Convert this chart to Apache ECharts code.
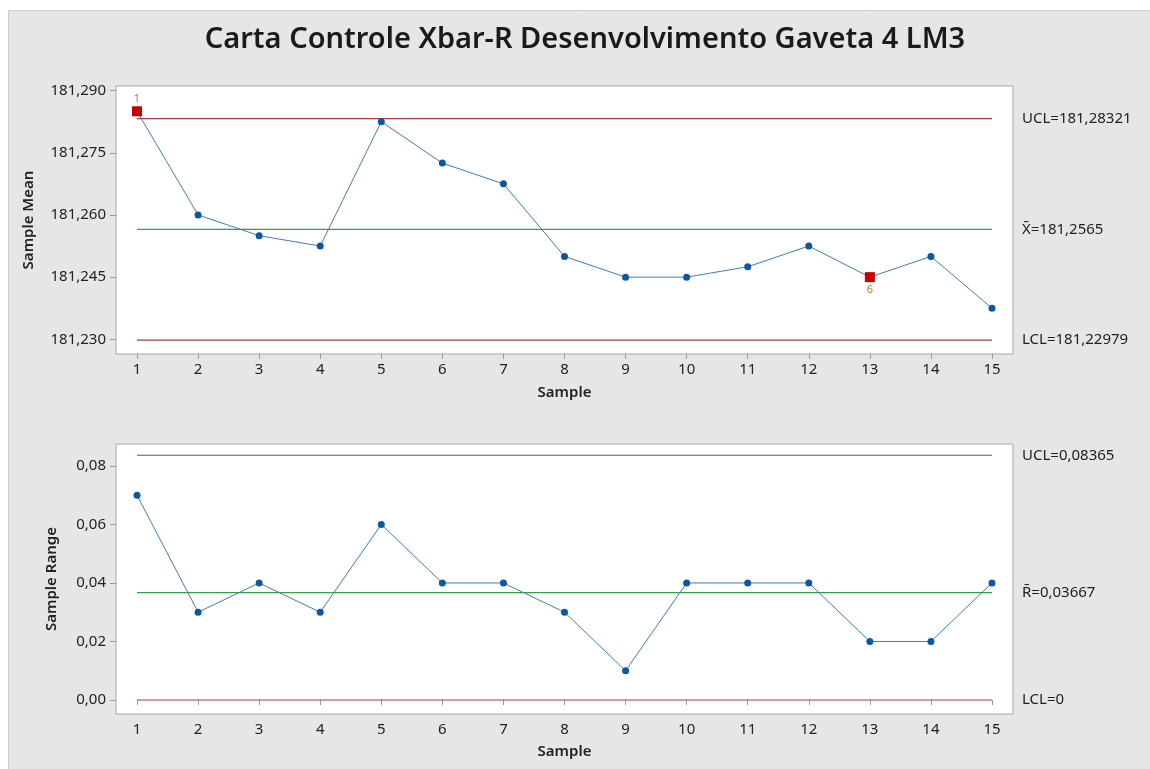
<!DOCTYPE html>
<html>
<head>
<meta charset="utf-8">
<title>Carta Controle Xbar-R</title>
<script src="https://cdn.jsdelivr.net/npm/echarts@6/dist/echarts.min.js"></script>
<style>
  html, body { margin: 0; padding: 0; background: #fff; }
  #chart { width: 1150px; height: 769px; }
</style>
</head>
<body>
<div id="chart"></div>
<script>
var samples = [1, 2, 3, 4, 5, 6, 7, 8, 9, 10, 11, 12, 13, 14, 15]
var sampleMeans = [181.285, 181.26, 181.255, 181.2525, 181.2825, 181.2725, 181.2675, 181.25,
  181.245, 181.245, 181.2475, 181.2525, 181.245, 181.25, 181.2375]
var sampleRanges = [0.07, 0.03, 0.04, 0.03, 0.06, 0.04, 0.04, 0.03, 0.01, 0.04, 0.04, 0.04, 0.02, 0.02, 0.04]

// limites de controle
var xbarLimits = { ucl: 181.28321, center: 181.2565, lcl: 181.22979 }
var rLimits = { ucl: 0.08365, center: 0.03667, lcl: 0 }

// pontos fora de controle (amostra, teste falhado)
var outSamples = [1, 13]
var outTests = ['1', '6']

// ticks
var meanTicks = [181.23, 181.245, 181.26, 181.275, 181.29]
var rangeTicks = [0, 0.02, 0.04, 0.06, 0.08]

var font = 'Noto Sans'
var textColor = '#222'
var redLine = '#a83a3a'
var greenLine = '#3a9a4a'

function comma(v, d) {
  return v.toFixed(d).replace('.', ',')
}

function limitSeries(xi, yi, value, color, text) {
  return {
    type: 'line',
    xAxisIndex: xi,
    yAxisIndex: yi,
    data: [[samples[0], value], [samples[samples.length - 1], value]],
    symbol: 'none',
    silent: true,
    z: 1,
    lineStyle: { color: color, width: 1.2 },
    endLabel: {
      show: true,
      formatter: text,
      distance: 30,
      color: textColor,
      fontFamily: font,
      fontSize: 15
    }
  }
}

function pointData(values) {
  return values.map(function (v, i) {
    var s = samples[i]
    var k = outSamples.indexOf(s)
    if (k < 0) return [s, v]
    return {
      value: [s, v],
      symbol: 'rect',
      symbolSize: 10,
      itemStyle: { color: '#cc0000' },
      label: {
        show: true,
        formatter: outTests[k],
        position: k === 0 ? 'top' : 'bottom',
        distance: 2,
        color: '#b87a30',
        fontFamily: font,
        fontSize: 11
      }
    }
  })
}

var chart = echarts.init(document.getElementById('chart'))

var xAxisBase = {
  type: 'value',
  min: 0.656,
  max: 15.344,
  splitLine: { show: false },
  axisLine: { show: false },
  axisTick: { show: true, length: 5, customValues: samples, lineStyle: { color: '#999' } },
  axisLabel: {
    customValues: samples,
    margin: 8,
    color: textColor,
    fontFamily: font,
    fontSize: 15
  },
  name: 'Sample',
  nameLocation: 'middle',
  nameTextStyle: { color: textColor, fontFamily: font, fontSize: 15, fontWeight: 600 }
}

chart.setOption({
  backgroundColor: '#fff',
  animation: false,
  title: {
    text: 'Carta Controle Xbar-R Desenvolvimento Gaveta 4 LM3',
    left: 580,
    top: 20,
    textAlign: 'center',
    textStyle: { color: '#1a1a1a', fontFamily: font, fontSize: 29, fontWeight: 600 }
  },
  graphic: [{
    type: 'rect',
    silent: true,
    z: -10,
    shape: { x: 8.5, y: 10.5, width: 1150, height: 770 },
    style: { fill: '#e6e6e6', stroke: '#cdcdcd', lineWidth: 1 }
  }],
  grid: [
    { left: 116, top: 86, width: 897, height: 268, show: true, backgroundColor: '#fff', borderColor: '#a8a8a8', borderWidth: 1 },
    { left: 116, top: 444, width: 897, height: 270, show: true, backgroundColor: '#fff', borderColor: '#a8a8a8', borderWidth: 1 }
  ],
  xAxis: [
    Object.assign({}, xAxisBase, { gridIndex: 0, nameGap: 31 }),
    Object.assign({}, xAxisBase, { gridIndex: 1, nameGap: 30 })
  ],
  yAxis: [
    {
      type: 'value',
      gridIndex: 0,
      min: 181.22646,
      max: 181.2911,
      splitLine: { show: false },
      axisLine: { show: false },
      axisTick: { show: true, length: 6, customValues: meanTicks, lineStyle: { color: '#999' } },
      axisLabel: {
        customValues: meanTicks,
        margin: 10,
        color: textColor,
        fontFamily: font,
        fontSize: 15,
        formatter: function (v) { return comma(v, 3) }
      },
      name: 'Sample Mean',
      nameLocation: 'middle',
      nameGap: 80,
      nameTextStyle: { color: textColor, fontFamily: font, fontSize: 15, fontWeight: 600 }
    },
    {
      type: 'value',
      gridIndex: 1,
      min: -0.00479,
      max: 0.0875,
      splitLine: { show: false },
      axisLine: { show: false },
      axisTick: { show: true, length: 6, customValues: rangeTicks, lineStyle: { color: '#999' } },
      axisLabel: {
        customValues: rangeTicks,
        margin: 10,
        color: textColor,
        fontFamily: font,
        fontSize: 15,
        formatter: function (v) { return comma(v, 2) }
      },
      name: 'Sample Range',
      nameLocation: 'middle',
      nameGap: 57,
      nameTextStyle: { color: textColor, fontFamily: font, fontSize: 15, fontWeight: 600 }
    }
  ],
  series: [
    limitSeries(0, 0, xbarLimits.ucl, redLine, 'UCL=' + comma(xbarLimits.ucl, 5)),
    limitSeries(0, 0, xbarLimits.center, greenLine, 'X\u0304=' + comma(xbarLimits.center, 4)),
    limitSeries(0, 0, xbarLimits.lcl, redLine, 'LCL=' + comma(xbarLimits.lcl, 5)),
    limitSeries(1, 1, rLimits.ucl, redLine, 'UCL=' + comma(rLimits.ucl, 5)),
    limitSeries(1, 1, rLimits.center, greenLine, 'R\u0304=' + comma(rLimits.center, 5)),
    limitSeries(1, 1, rLimits.lcl, redLine, 'LCL=0'),
    {
      type: 'line',
      xAxisIndex: 0,
      yAxisIndex: 0,
      data: pointData(sampleMeans),
      symbol: 'circle',
      symbolSize: 7,
      z: 3,
      itemStyle: { color: '#0b57a6' },
      lineStyle: { color: '#3d7cc4', width: 1 }
    },
    {
      type: 'line',
      xAxisIndex: 1,
      yAxisIndex: 1,
      data: sampleRanges.map(function (v, i) { return [samples[i], v] }),
      symbol: 'circle',
      symbolSize: 7,
      z: 3,
      itemStyle: { color: '#0b57a6' },
      lineStyle: { color: '#3d7cc4', width: 1 }
    }
  ]
})
</script>
</body>
</html>
